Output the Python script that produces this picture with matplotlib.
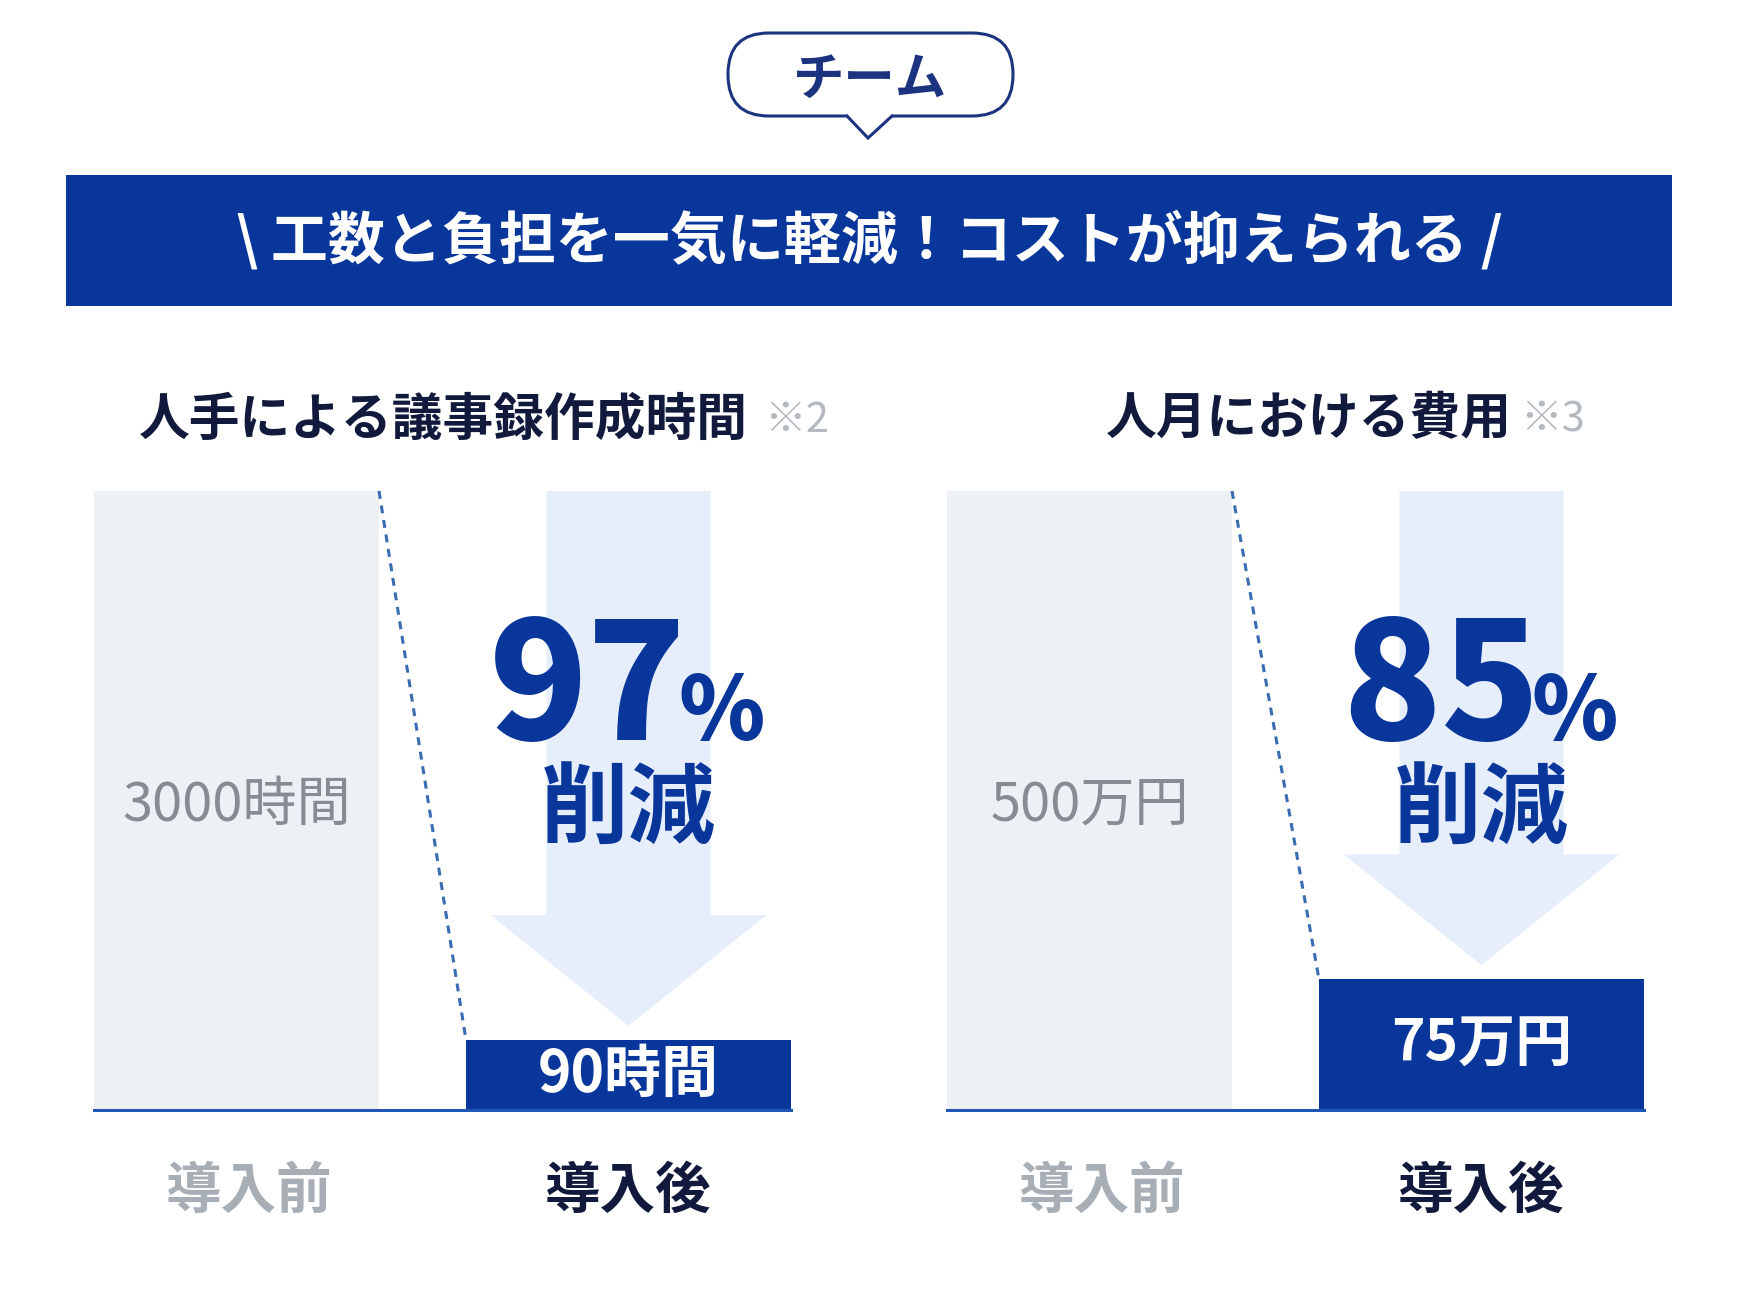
import matplotlib
matplotlib.use("Agg")
import matplotlib.pyplot as plt
from matplotlib.patches import FancyBboxPatch, Polygon, Rectangle

plt.rcParams['font.family'] = ['Noto Sans CJK JP', 'DejaVu Sans']

# ---- data ----
bubble_label = "チーム"
headline = "\\ 工数と負担を一気に軽減！コストが抑えられる /"
panel_titles = ["人手による議事録作成時間", "人月における費用"]
panel_notes = ["※2", "※3"]
categories = ["導入前", "導入後"]
before_labels = ["3000時間", "500万円"]
after_labels = ["90時間", "75万円"]
reduction_pct = [97, 85]
before_height = [100, 100]      # bar heights as drawn, before = 100
after_height = [11.3, 21.1]

# ---- styles ----
NAVY = "#08369a"
DARK = "#111a3c"
GRAY_BAR = "#edf0f4"
ARROW = "#e6eefc"

W, H = 1740, 1305
fig = plt.figure(figsize=(W / 100, H / 100), dpi=100)
bg = fig.add_axes([0, 0, 1, 1])
bg.set_xlim(0, W)
bg.set_ylim(H, 0)
bg.axis("off")
bg.set_zorder(10)  # text layer above the panel axes

# speech bubble
bubble = FancyBboxPatch((728, 33), 285, 83, boxstyle="round,pad=0,rounding_size=41",
                        fc="white", ec="#1c3380", lw=2.2, zorder=2)
bg.add_patch(bubble)
bg.add_patch(Polygon([(847, 111), (892, 111), (892, 117), (868, 138), (847, 117)],
                     closed=True, fc="white", ec="none", zorder=3))
bg.plot([847, 868, 892], [116, 138, 116], color="#1c3380", lw=2.2, zorder=4,
        solid_joinstyle="miter")
bg.text(870, 79, bubble_label, ha="center", va="center", fontsize=37,
        fontweight="bold", color="#1c3380", zorder=5)

# headline banner
bg.add_patch(Rectangle((66, 175), 1606, 131, fc=NAVY, ec="none"))
bg.text(869, 241, headline, ha="center", va="center", fontsize=41,
        fontweight="bold", color="white")

# panels
panel_left = [94, 947]
panel_w = 697
base_px, top_px = 1110, 491
gray_x, gray_w = 0, 285
blue_x, blue_w = 372, 325
title_x = [139, 1106]
note_x = [764, 1520]

for i in range(2):
    off = panel_left[i]
    ax = fig.add_axes([off / W, (H - base_px) / H, panel_w / W, (base_px - top_px) / H])
    ax.set_xlim(0, panel_w)
    ax.set_ylim(0, 100)
    ax.axis("off")

    b, a = before_height[i], after_height[i]
    ax.bar([gray_x, blue_x], [b, a], width=[gray_w, blue_w], align="edge",
           color=[GRAY_BAR, NAVY], zorder=2)
    ax.plot([0, panel_w], [0, 0], color="#1f55b5", lw=2.2, zorder=3, clip_on=False)
    ax.plot([gray_x + gray_w, blue_x], [b, a], color="#3a6cb3", lw=2.2,
            ls=(0, (2.6, 2.2)), zorder=3, clip_on=False)

    # down arrow behind the big number
    cx = blue_x + blue_w / 2
    tip = a + 2.3
    head_top = tip + 17.9
    ax.add_patch(Polygon([(cx - 82, 100), (cx + 82, 100), (cx + 82, head_top),
                          (cx + 138, head_top), (cx, tip), (cx - 138, head_top),
                          (cx - 82, head_top)], closed=True, fc=ARROW, ec="none", zorder=1))

    # labels on bars
    ax.text(gray_x + gray_w / 2, 49.2, before_labels[i], ha="center", va="center",
            fontsize=39, color="#878c93", zorder=4)
    ax.text(cx, a / 2, after_labels[i], ha="center", va="center", fontsize=41,
            fontweight="bold", color="white", zorder=4)

    # big percentage
    bg.text(off + 593, 740, str(reduction_pct[i]), ha="right", va="baseline",
            fontsize=117, fontweight="black", color=NAVY, zorder=5)
    bg.text(off + 585, 740, "%", ha="left", va="baseline", fontsize=63,
            fontweight="black", color=NAVY, zorder=5)
    bg.text(off + cx, 811, "削減", ha="center", va="center", fontsize=63,
            fontweight="bold", color=NAVY, zorder=5)

    # titles
    bg.text(title_x[i], 420, panel_titles[i], ha="left", va="center", fontsize=36.5,
            fontweight="bold", color=DARK)
    bg.text(note_x[i], 420, panel_notes[i], ha="left", va="center", fontsize=30,
            color="#b4b9c0")

    # categories
    bg.text(off + gray_x + gray_w / 2 + 13, 1192, categories[0], ha="center",
            va="center", fontsize=40, fontweight="bold", color="#a8aeb6")
    bg.text(off + cx, 1192, categories[1], ha="center", va="center", fontsize=40,
            fontweight="bold", color=DARK)

fig.savefig("out.png", dpi=100, facecolor="white")
